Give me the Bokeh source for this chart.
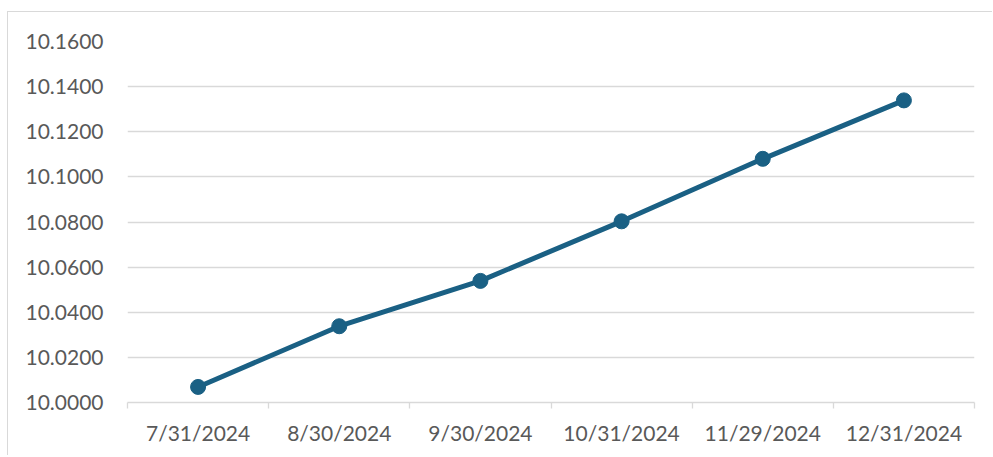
from bokeh.plotting import figure
from bokeh.models import Range1d, FixedTicker, NumeralTickFormatter
from bokeh.embed import file_html
from bokeh.resources import INLINE

dates = ["7/31/2024", "8/30/2024", "9/30/2024", "10/31/2024", "11/29/2024", "12/31/2024"]
values = [10.0069, 10.0338, 10.0539, 10.0803, 10.1080, 10.1339]
y_ticks = [10.00, 10.02, 10.04, 10.06, 10.08, 10.10, 10.12, 10.14, 10.16]

LINE = "#1a6084"
GRID = "#d9d9d9"
TEXT = "#595959"
FONT = "Lato"

n = len(dates)
xpos = [i + 0.5 for i in range(n)]          # category centres
bounds = [float(i) for i in range(n + 1)]   # category boundaries

p = figure(width=985, height=444, x_range=Range1d(0, n),
           y_range=Range1d(10.0, 10.16), output_backend="svg",
           toolbar_location=None,
           min_border_left=119, min_border_right=19, min_border_top=29,
           min_border_bottom=54)
p.outline_line_color = None
p.background_fill_color = "white"
p.border_fill_color = "white"
p.styles = {"border-left": "1px solid #d9d9d9", "border-top": "1px solid #d9d9d9",
            "margin-top": "11px", "margin-left": "7px"}

# y axis
ya = p.yaxis[0]
ya.ticker = FixedTicker(ticks=y_ticks)
ya.formatter = NumeralTickFormatter(format="0.0000")
ya.axis_line_color = None
ya.major_tick_line_color = None
ya.minor_tick_line_color = None
ya.major_tick_out = 0
ya.major_label_standoff = 24
ya.major_label_text_font = FONT
ya.major_label_text_font_size = "21px"
ya.major_label_text_color = TEXT

p.ygrid.ticker = FixedTicker(ticks=y_ticks)
p.ygrid.grid_line_color = GRID
p.ygrid.grid_line_width = 1.3
p.xgrid.grid_line_color = None

# x axis: labels at centres, ticks at boundaries
xa = p.xaxis[0]
xa.ticker = FixedTicker(ticks=xpos, minor_ticks=bounds)
xa.major_label_overrides = {x: d for x, d in zip(xpos, dates)}
xa.major_tick_line_color = None
xa.major_tick_out = 0
xa.major_tick_in = 0
xa.minor_tick_out = 6
xa.minor_tick_in = 0
xa.minor_tick_line_color = GRID
xa.minor_tick_line_width = 1.3
xa.axis_line_color = GRID
xa.axis_line_width = 1.3
xa.major_label_standoff = 11
xa.major_label_text_font = FONT
xa.major_label_text_font_size = "21px"
xa.major_label_text_color = TEXT

p.line(xpos, values, line_color=LINE, line_width=5)
p.scatter(xpos, values, size=15, fill_color=LINE, line_color=LINE)

open("out.html", "w").write(file_html(p, INLINE))
